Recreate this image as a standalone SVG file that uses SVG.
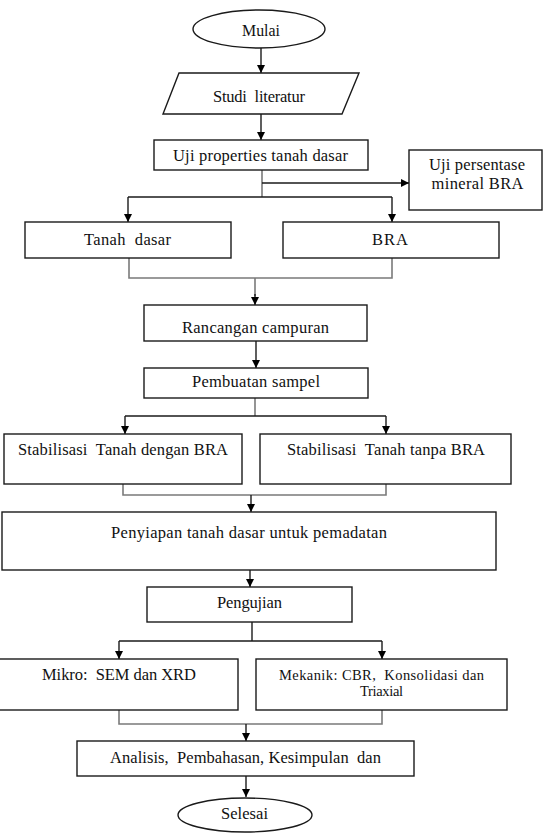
<svg xmlns="http://www.w3.org/2000/svg" width="543" height="833" viewBox="0 0 543 833">
<style>
.box{fill:#fff;stroke:#1a1a1a;stroke-width:1.4}
text{font-family:'Liberation Serif','DejaVu Serif',serif;font-size:16.5px;fill:#111;text-anchor:middle;white-space:pre}
text.s{font-size:14.5px}
.ln{fill:none;stroke:#1a1a1a;stroke-width:1.4}
.gl{fill:none;stroke:#7a7a7a;stroke-width:1.6}
</style>
<defs>
<marker id="ah" viewBox="0 0 10 10" refX="10" refY="5" markerWidth="8" markerHeight="8" markerUnits="userSpaceOnUse" orient="auto">
<path d="M0,0 L10,5 L0,10 z" fill="#000"/>
</marker>
</defs>
<rect width="543" height="833" fill="#fff"/>
<g id="connectors">
<path class="ln" d="M261,48 V73" marker-end="url(#ah)"/>
<path class="ln" d="M261,114 V140" marker-end="url(#ah)"/>
<path class="gl" d="M262,170 V197"/>
<path class="ln" d="M262,183 H409" marker-end="url(#ah)"/>
<path class="ln" d="M128,197 H392"/>
<path class="ln" d="M128,197 V222" marker-end="url(#ah)"/>
<path class="ln" d="M392,197 V222" marker-end="url(#ah)"/>
<path class="gl" d="M129,258 V278 H392 V258"/>
<path class="gl" d="M255,278 V296"/>
<path class="ln" d="M255,294 V305" marker-end="url(#ah)"/>
<path class="ln" d="M256,341 V368" marker-end="url(#ah)"/>
<path class="gl" d="M255,398 V416"/>
<path class="ln" d="M125,416 H386"/>
<path class="ln" d="M125,416 V434" marker-end="url(#ah)"/>
<path class="ln" d="M386,416 V434" marker-end="url(#ah)"/>
<path class="gl" d="M123,484 V495 H386 V484"/>
<path class="ln" d="M251,495 V512" marker-end="url(#ah)"/>
<path class="ln" d="M250,570 V587" marker-end="url(#ah)"/>
<path class="ln" d="M252,622 V641"/>
<path class="ln" d="M119,641 H382"/>
<path class="ln" d="M119,641 V659" marker-end="url(#ah)"/>
<path class="ln" d="M382,641 V659" marker-end="url(#ah)"/>
<path class="gl" d="M119,710 V724 H382 V710"/>
<path class="ln" d="M246,724 V741" marker-end="url(#ah)"/>
<path class="ln" d="M246,776 V797" marker-end="url(#ah)"/>
</g>
<g id="mulai">
<ellipse class="box" cx="259" cy="29" rx="66" ry="19"/>
<text x="261" y="36" textLength="38" lengthAdjust="spacingAndGlyphs">Mulai</text>
</g>
<g id="studi">
<polygon class="box" points="179,73 359,73 342,114 163,114"/>
<text x="259" y="102" textLength="92" lengthAdjust="spacing">Studi  literatur</text>
</g>
<g id="uji-properties">
<rect class="box" x="154" y="140" width="214" height="30"/>
<text x="260.5" y="161" textLength="175" lengthAdjust="spacing">Uji properties tanah dasar</text>
</g>
<g id="uji-persentase">
<rect class="box" x="409" y="150" width="133" height="60"/>
<text x="477" y="170" textLength="96" lengthAdjust="spacing">Uji persentase</text>
<text x="477.5" y="189" textLength="92" lengthAdjust="spacing">mineral BRA</text>
</g>
<g id="tanah-dasar">
<rect class="box" x="25" y="222" width="206" height="36"/>
<text x="127.5" y="245" textLength="87" lengthAdjust="spacing">Tanah  dasar</text>
</g>
<g id="bra">
<rect class="box" x="283" y="222" width="216" height="36"/>
<text x="390" y="245" textLength="36" lengthAdjust="spacing">BRA</text>
</g>
<g id="rancangan">
<rect class="box" x="144" y="305" width="223" height="36"/>
<text x="255.5" y="333" textLength="147" lengthAdjust="spacing">Rancangan campuran</text>
</g>
<g id="pembuatan">
<rect class="box" x="144" y="368" width="224" height="30"/>
<text x="256" y="387" textLength="128" lengthAdjust="spacing">Pembuatan sampel</text>
</g>
<g id="stab-dengan">
<rect class="box" x="4" y="434" width="238" height="50"/>
<text x="123" y="455" textLength="210" lengthAdjust="spacing">Stabilisasi  Tanah dengan BRA</text>
</g>
<g id="stab-tanpa">
<rect class="box" x="260" y="434" width="251" height="50"/>
<text x="386" y="455" textLength="198" lengthAdjust="spacing">Stabilisasi  Tanah tanpa BRA</text>
</g>
<g id="penyiapan">
<rect class="box" x="2" y="512" width="494" height="58"/>
<text x="249" y="538" textLength="276" lengthAdjust="spacing">Penyiapan tanah dasar untuk pemadatan</text>
</g>
<g id="pengujian">
<rect class="box" x="147" y="587" width="205" height="35"/>
<text x="249.5" y="608" textLength="65" lengthAdjust="spacing">Pengujian</text>
</g>
<g id="mikro">
<rect class="box" x="-1" y="659" width="239" height="51"/>
<text x="119" y="680" textLength="154" lengthAdjust="spacing">Mikro:  SEM dan XRD</text>
</g>
<g id="mekanik">
<rect class="box" x="256" y="659" width="251" height="51"/>
<text class="s" x="381.5" y="680" textLength="205" lengthAdjust="spacing">Mekanik: CBR,  Konsolidasi dan</text>
<text class="s" x="381.5" y="696" textLength="43" lengthAdjust="spacing">Triaxial</text>
</g>
<g id="analisis">
<rect class="box" x="77" y="741" width="337" height="35"/>
<text x="245.5" y="763" textLength="271" lengthAdjust="spacing">Analisis,  Pembahasan, Kesimpulan  dan</text>
</g>
<g id="selesai">
<ellipse class="box" cx="245" cy="815" rx="67" ry="17"/>
<text x="244.5" y="819" textLength="47" lengthAdjust="spacing">Selesai</text>
</g>
</svg>
